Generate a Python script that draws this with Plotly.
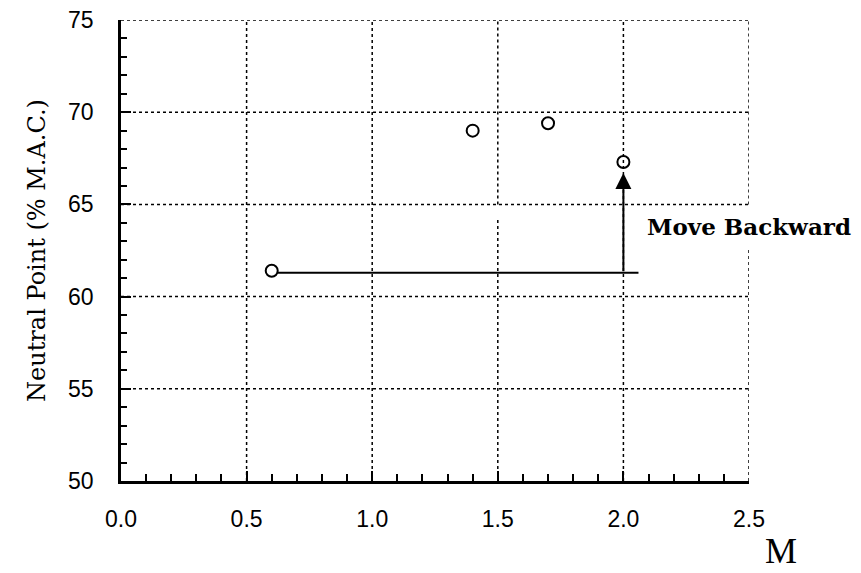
import plotly.graph_objects as go

# Data
mach = [0.6, 1.4, 1.7, 2.0]
neutral_point = [61.4, 69.0, 69.4, 67.3]
move_line_x = [0.62, 2.06]
move_line_y = [61.3, 61.3]
arrow_from = (2.0, 61.3)
arrow_to = (2.0, 66.7)
x_ticks = [0.0, 0.5, 1.0, 1.5, 2.0, 2.5]
x_tick_labels = ["0.0", "0.5", "1.0", "1.5", "2.0", "2.5"]
y_ticks = [50, 55, 60, 65, 70, 75]
y_tick_labels = ["50", "55", "60", "65", "70", "75"]

fig = go.Figure()

shapes = []
grid_style = dict(color="black", width=1.5, dash="dot")
for xv in x_ticks[1:]:
    if xv == 1.5:
        shapes.append(dict(type="line", xref="x", yref="y", x0=xv, x1=xv, y0=50, y1=64.2, line=grid_style))
        shapes.append(dict(type="line", xref="x", yref="y", x0=xv, x1=xv, y0=65.0, y1=75, line=grid_style))
    elif xv == 2.5:
        shapes.append(dict(type="line", xref="x", yref="y", x0=xv, x1=xv, y0=50, y1=62.6, line=grid_style))
        shapes.append(dict(type="line", xref="x", yref="y", x0=xv, x1=xv, y0=65.0, y1=75, line=grid_style))
    else:
        shapes.append(dict(type="line", xref="x", yref="y", x0=xv, x1=xv, y0=50, y1=75, line=grid_style))
for yv in y_ticks[1:]:
    shapes.append(dict(type="line", xref="x", yref="y", x0=0, x1=2.5, y0=yv, y1=yv, line=grid_style))

fig.add_trace(go.Scatter(
    x=move_line_x, y=move_line_y, mode="lines",
    line=dict(color="black", width=2), showlegend=False, hoverinfo="skip"))

fig.add_trace(go.Scatter(
    x=mach, y=neutral_point, mode="markers",
    marker=dict(symbol="circle-open", size=12, color="black", line=dict(width=2)),
    showlegend=False))

fig.add_annotation(
    x=arrow_to[0], y=arrow_to[1], ax=arrow_from[0], ay=arrow_from[1],
    xref="x", yref="y", axref="x", ayref="y",
    text="", showarrow=True, arrowhead=2, arrowsize=1.6, arrowwidth=2, arrowcolor="black")

fig.add_annotation(
    x=2.5, y=63.8, xref="x", yref="y", text="<b>Move Backward</b>", showarrow=False,
    font=dict(family="DejaVu Serif", size=23, color="black"))

fig.add_annotation(
    x=2.5, y=0, xref="x", yref="paper", xshift=32, yshift=-92, text="M", showarrow=False,
    font=dict(family="Liberation Serif", size=36, color="black"))

fig.update_layout(
    width=861, height=573,
    margin=dict(l=113, r=120, t=12, b=100, autoexpand=False),
    plot_bgcolor="white", paper_bgcolor="white",
    shapes=shapes,
    xaxis=dict(
        range=[0, 2.5], tickmode="array", tickvals=x_ticks, ticktext=x_tick_labels,
        showgrid=False, zeroline=False, showline=True, linecolor="black", linewidth=2.5,
        ticks="inside", ticklen=10, tickwidth=2, tickcolor="black",
        minor=dict(dtick=0.1, ticks="inside", ticklen=7, tickwidth=2, tickcolor="black", showgrid=False),
        tickfont=dict(family="Liberation Sans", size=23, color="black"),
        ticklabelstandoff=16, ticklabeloverflow="allow",
    ),
    yaxis=dict(
        range=[50, 75], tickmode="array", tickvals=y_ticks, ticktext=y_tick_labels,
        showgrid=False, zeroline=False, showline=True, linecolor="black", linewidth=2.5,
        ticks="inside", ticklen=10, tickwidth=2, tickcolor="black",
        minor=dict(dtick=1, ticks="inside", ticklen=6, tickwidth=2, tickcolor="black", showgrid=False),
        tickfont=dict(family="Liberation Sans", size=23, color="black"),
        ticklabelstandoff=20, ticklabeloverflow="allow",
        title=dict(text="Neutral Point (% M.A.C.)", font=dict(family="DejaVu Serif", size=24, color="black"), standoff=16),
    ),
)

fig.write_html("out.html")
